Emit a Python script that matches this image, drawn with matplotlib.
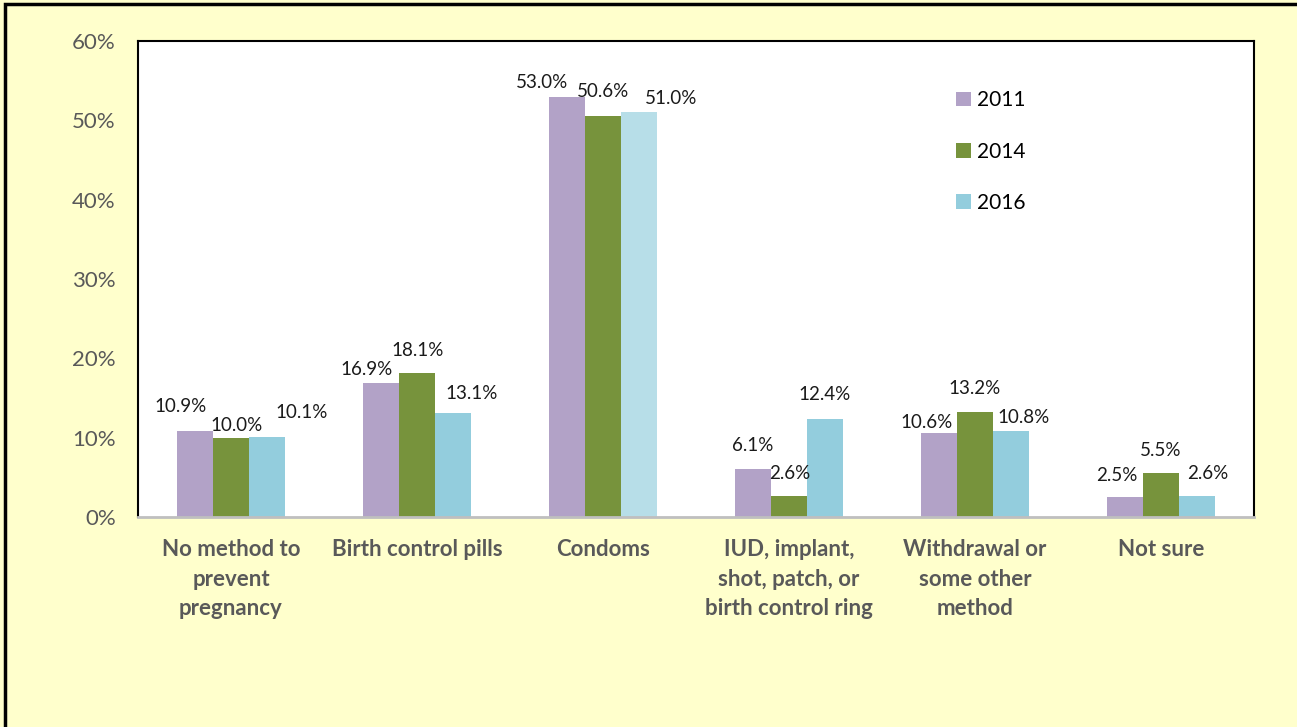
import matplotlib.pyplot as plt
import numpy as np
from matplotlib.patches import Rectangle
from matplotlib.ticker import FuncFormatter

plt.rcParams['font.family'] = ['Lato', 'DejaVu Sans']

categories = ["No method to\nprevent\npregnancy", "Birth control pills", "Condoms",
              "IUD, implant,\nshot, patch, or\nbirth control ring",
              "Withdrawal or\nsome other\nmethod", "Not sure"]
years = ["2011", "2014", "2016"]
v2011 = [10.9, 16.9, 53.0, 6.1, 10.6, 2.5]
v2014 = [10.0, 18.1, 50.6, 2.6, 13.2, 5.5]
v2016 = [10.1, 13.1, 51.0, 12.4, 10.8, 2.6]

colors = ["#B2A2C7", "#77933C", "#93CDDD"]

# hand placed label offsets (pixels) per series, per category
offsets = [
    [(-15, 24), (-15, 13), (-25, 14), (0, 23), (-13, 10), (-8, 22)],
    [(6, 12), (1, 23), (0, 24), (1, 23), (0, 24), (0, 23)],
    [(35, 24), (19, 20), (32, 14), (0, 24), (13, 14), (11, 23)],
]

fig = plt.figure(figsize=(12.97, 7.27), dpi=100)
fig.patch.set_facecolor("#FFFFCC")
ax = fig.add_axes([138/1297, 1-517/727, (1254-138)/1297, (517-41)/727])
ax.set_facecolor("white")

x = np.arange(len(categories))
w = 0.193
series = [v2011, v2014, v2016]
for k, vals in enumerate(series):
    cols = [colors[k]] * len(vals)
    if k == 2:
        cols[2] = "#B7DEE8"
    bars = ax.bar(x + (k-1)*w, vals, w, color=cols, label=years[k], linewidth=0)
    for i, b in enumerate(bars):
        dx, dy = offsets[k][i]
        ax.annotate("%.1f%%" % vals[i], (b.get_x() + b.get_width()/2, b.get_height()),
                    xytext=(dx, dy), textcoords="offset pixels",
                    ha="center", va="center", fontsize=13.5, color="#1a1a1a")

ax.set_xlim(-0.5, len(categories) - 0.5)
ax.set_ylim(0, 60)
ax.set_yticks(np.arange(0, 61, 10))
ax.yaxis.set_major_formatter(FuncFormatter(lambda v, p: "%d%%" % v))
ax.set_xticks(x)
ax.set_xticklabels(categories, fontsize=16, fontweight="bold", color="#595959",
                   linespacing=1.5, va="top")
ax.tick_params(axis="x", length=0, pad=16)
ax.tick_params(axis="y", length=0, pad=16, labelsize=16, labelcolor="#595959")

for s in ["left", "top", "right"]:
    ax.spines[s].set_color("black")
    ax.spines[s].set_linewidth(1.5)
ax.spines["bottom"].set_color("#BFBFBF")
ax.spines["bottom"].set_linewidth(2)

leg = ax.legend(loc="upper left", bbox_to_anchor=(946/1297, 1-80/727),
                bbox_transform=fig.transFigure, frameon=False, fontsize=15,
                handlelength=0.7, handleheight=0.7, handletextpad=0.3,
                labelspacing=1.5, borderpad=0)

# outer frame
fig.patches.append(Rectangle((5/1297, -0.05), 1.1, 1.05 - 3.5/727, transform=fig.transFigure,
                             fill=False, edgecolor="black", linewidth=2.5))

fig.savefig("out.png", dpi=100, facecolor=fig.get_facecolor())
